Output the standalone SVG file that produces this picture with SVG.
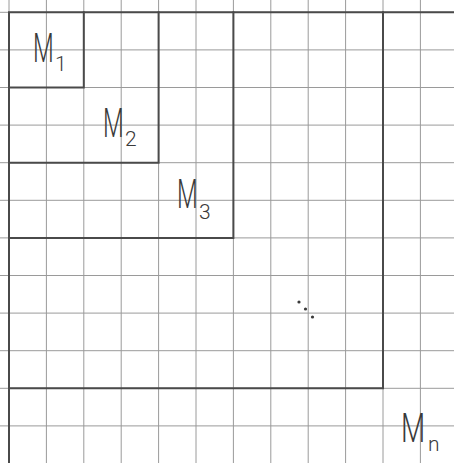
<svg xmlns="http://www.w3.org/2000/svg" width="454" height="463" viewBox="0 0 454 463">
<style>
.grid line{stroke:#9a9a9a;stroke-width:1}
.heavy{stroke:#4a4a4a;stroke-width:2;fill:none;stroke-linecap:square}
.lbl{font-family:Roboto,"Liberation Sans",sans-serif;font-weight:300;fill:#3a3a3a}
.m{font-size:40px}
.s{font-size:21px}
</style>
<rect width="454" height="463" fill="#ffffff"/>
<g class="grid" id="grid">
<line x1="9" y1="0" x2="9" y2="463"/>
<line x1="46.4" y1="0" x2="46.4" y2="463"/>
<line x1="83.8" y1="0" x2="83.8" y2="463"/>
<line x1="121.2" y1="0" x2="121.2" y2="463"/>
<line x1="158.6" y1="0" x2="158.6" y2="463"/>
<line x1="196" y1="0" x2="196" y2="463"/>
<line x1="233.4" y1="0" x2="233.4" y2="463"/>
<line x1="270.8" y1="0" x2="270.8" y2="463"/>
<line x1="308.2" y1="0" x2="308.2" y2="463"/>
<line x1="345.6" y1="0" x2="345.6" y2="463"/>
<line x1="383" y1="0" x2="383" y2="463"/>
<line x1="420.4" y1="0" x2="420.4" y2="463"/>
<line x1="0" y1="12.3" x2="454" y2="12.3"/>
<line x1="0" y1="49.9" x2="454" y2="49.9"/>
<line x1="0" y1="87.5" x2="454" y2="87.5"/>
<line x1="0" y1="125.1" x2="454" y2="125.1"/>
<line x1="0" y1="162.7" x2="454" y2="162.7"/>
<line x1="0" y1="200.3" x2="454" y2="200.3"/>
<line x1="0" y1="237.9" x2="454" y2="237.9"/>
<line x1="0" y1="275.5" x2="454" y2="275.5"/>
<line x1="0" y1="313.1" x2="454" y2="313.1"/>
<line x1="0" y1="350.7" x2="454" y2="350.7"/>
<line x1="0" y1="388.3" x2="454" y2="388.3"/>
<line x1="0" y1="425.9" x2="454" y2="425.9"/>
</g>
<g id="outer">
<path class="heavy" d="M454 12.3 H9 V463"/>
</g>
<g id="M1">
<path class="heavy" d="M83.8 12.3 V87.5 H9"/>
<text class="lbl m" transform="translate(33 62) scale(0.6 1)">M</text>
<text class="lbl s" x="55" y="71">1</text>
</g>
<g id="M2">
<path class="heavy" d="M158.6 12.3 V162.7 H9"/>
<text class="lbl m" transform="translate(103 137) scale(0.6 1)">M</text>
<text class="lbl s" x="125" y="146">2</text>
</g>
<g id="M3">
<path class="heavy" d="M233.4 12.3 V237.9 H9"/>
<text class="lbl m" transform="translate(177 208) scale(0.6 1)">M</text>
<text class="lbl s" x="199" y="219">3</text>
</g>
<g id="Mn">
<path class="heavy" d="M383 12.3 V388.3 H9"/>
<text class="lbl m" transform="translate(401 442) scale(0.7 1)">M</text>
<text class="lbl s" x="428" y="451">n</text>
</g>
<g id="dots" fill="#3a3a3a">
<circle cx="299" cy="302" r="1.6"/>
<circle cx="305.5" cy="309" r="1.6"/>
<circle cx="312.5" cy="317" r="1.6"/>
</g>
</svg>
